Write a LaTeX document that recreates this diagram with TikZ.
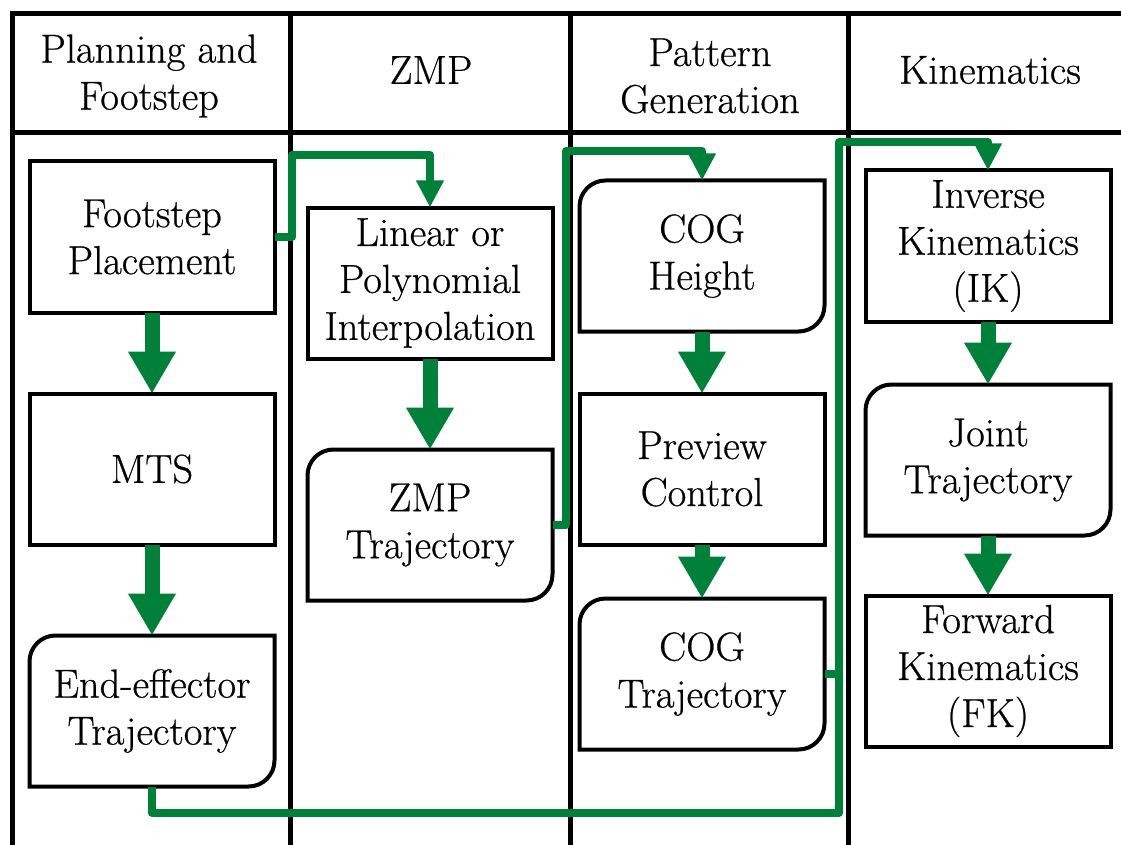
\documentclass[tikz,border=0pt]{standalone}
\usepackage{fontspec}
\newfontfamily\boxfont{Latin Modern Roman}[FakeBold=0.6]
\usetikzlibrary{arrows.meta}

\definecolor{flowgreen}{RGB}{0,128,56}

% outline with rounded top-left and bottom-right corners
\newcommand\softbox[1]{%
  \draw[line width=4pt]
    (#1.south west) -- ([yshift=-26pt]#1.north west)
    arc[start angle=180,end angle=90,radius=26pt]
    -- (#1.north east) -- ([yshift=26pt]#1.south east)
    arc[start angle=0,end angle=-90,radius=26pt] -- cycle;}

\tikzset{
  grid/.style={line width=5pt, black},
  txt/.style={font=\boxfont\fontsize{40.5}{47}\selectfont, align=center, inner sep=0pt},
  stepbox/.style={txt, minimum width=245pt, minimum height=151pt,
                  outer sep=0pt, line width=4pt},
  sqbox/.style={stepbox, draw},
  rbox/.style={stepbox},
  blk/.style={flowgreen, line width=15pt, -{Triangle[width=45pt,length=42pt]}},
  conn/.style={flowgreen, line width=8pt, line join=round,
               -{Triangle[width=26pt,length=27pt]}},
  link/.style={flowgreen, line width=8pt, line join=round},
}

\begin{document}
\begin{tikzpicture}[x=1pt,y=-1pt]
\useasboundingbox (0,0) rectangle (1121,845);
\clip (0,0) rectangle (1121,845);

% table frame: header row and four lanes
\draw[grid] (12,860) -- (12,14) -- (1140,14);
\draw[grid] (12,133) -- (1140,133);
\draw[grid] (290,14) -- (290,860);
\draw[grid] (570,14) -- (570,860);
\draw[grid] (848,14) -- (848,860);

% lane headings
\node[txt] (h1) at (149,76) {Planning and\\Footstep};
\node[txt] (h2) at (431,70) {ZMP};
\node[txt] (h3) at (710,76) {Pattern\\Generation};
\node[txt] (h4) at (990,70) {Kinematics};

% lane 1
\node[sqbox] (fp)  at (152,237) {Footstep\\Placement};
\node[sqbox] (mts) at (152,469) {MTS};
\node[rbox]  (ee)  at (152,711) {End-effector\\Trajectory};
\softbox{ee}

% lane 2
\node[sqbox] (lin) at (430,283) {Linear or\\Polynomial\\Interpolation};
\node[rbox]  (zt)  at (430,525) {ZMP\\Trajectory};
\softbox{zt}

% lane 3
\node[rbox]  (cogh) at (702,256) {COG\\Height};
\softbox{cogh}
\node[sqbox] (pc)   at (702,469) {Preview\\Control};
\node[rbox]  (cogt) at (702,674) {COG\\Trajectory};
\softbox{cogt}

% lane 4
\node[sqbox] (ik) at (988,246) {Inverse\\Kinematics\\(IK)};
\node[rbox]  (jt) at (988,460) {Joint\\Trajectory};
\softbox{jt}
\node[sqbox] (fk) at (988,671) {Forward\\Kinematics\\(FK)};

% flow inside each lane
\draw[blk] (fp) -- (mts);
\draw[blk] (mts) -- (ee);
\draw[blk] (lin) -- (zt);
\draw[blk] (cogh) -- (pc);
\draw[blk] (pc) -- (cogt);
\draw[blk] (ik) -- (jt);
\draw[blk] (jt) -- (fk);

% routing points between lanes
\coordinate (r1) at (292,155);
\coordinate (r2) at (566,151);
\coordinate (r3) at (839,142);
\coordinate (r4) at (839,813);

% links from lane to lane
\draw[conn] (fp.east) -| (r1) -| (lin.north);
\draw[conn] (zt.east) -| (r2) -| (cogh.north);
\draw[conn] (ee.south) |- (r4) -- (r3) -| (ik.north);
\draw[link] (cogt.east) -- (cogt.east -| r3);
\end{tikzpicture}
\end{document}
